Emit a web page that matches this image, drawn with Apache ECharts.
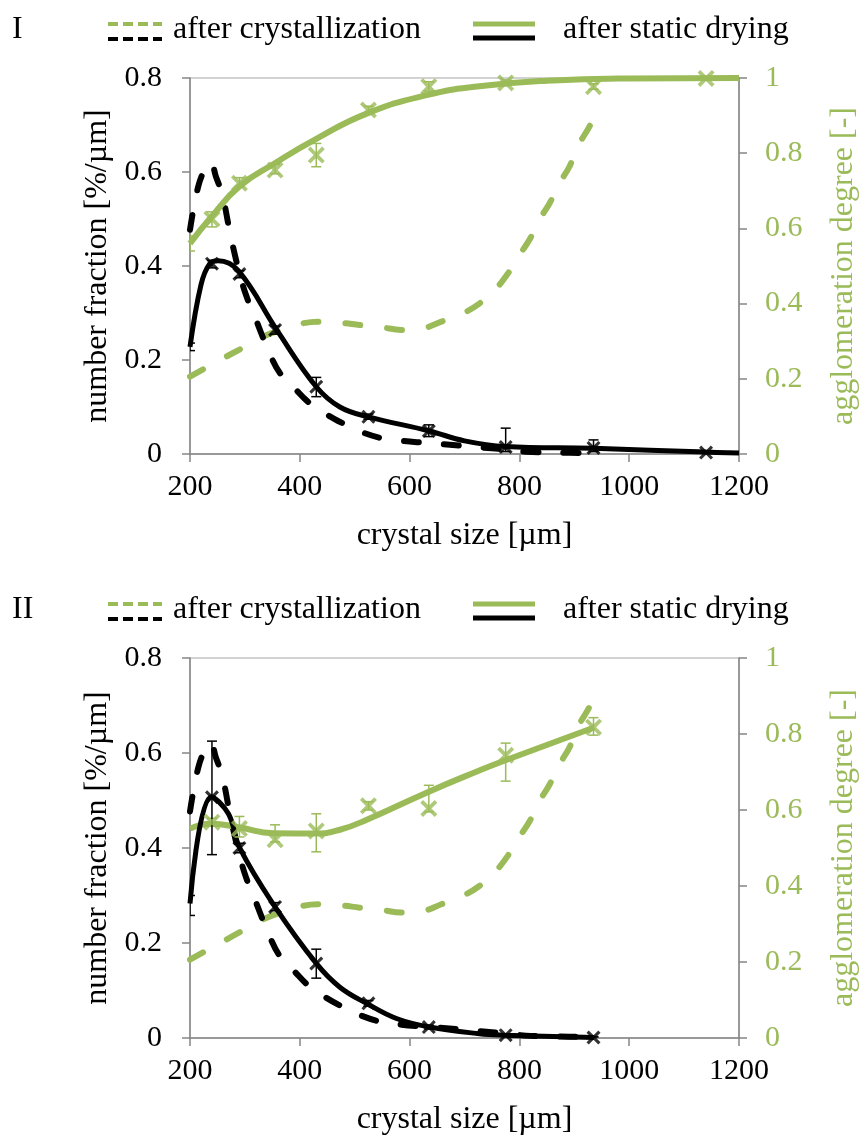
<!DOCTYPE html>
<html><head><meta charset="utf-8">
<script src="https://cdn.jsdelivr.net/npm/echarts@6/dist/echarts.min.js"></script>
<style>html,body{margin:0;padding:0;background:#fff}#c{width:860px;height:1135px}</style>
</head><body><div id="c"></div>
<script>
// ---------- DATA ----------
// measured sizes (µm)
const sizesI = [200, 240, 290, 355, 430, 525, 635, 775, 935, 1140];
const sizesII = [200, 240, 290, 355, 430, 525, 635, 775, 935];

// Panel I measured points (after static drying)
const blackMarkI = [0.228, 0.405, 0.383, 0.264, 0.143, 0.079, 0.049, 0.015, 0.013, 0.003];
const blackLowI  = [0.220, 0.396, 0.375, 0.255, 0.122, 0.074, 0.037, 0.005, 0.005, 0.001];
const blackHighI = [0.236, 0.412, 0.390, 0.272, 0.163, 0.085, 0.062, 0.055, 0.030, 0.005];
const greenMarkI = [0.560, 0.625, 0.720, 0.755, 0.795, 0.915, 0.977, 0.987, 0.977, 0.999];
const greenLowI  = [0.540, 0.604, 0.710, 0.745, 0.764, 0.905, 0.965, 0.980, 0.970, 0.995];
const greenHighI = [0.580, 0.644, 0.735, 0.770, 0.826, 0.925, 0.990, 0.995, 0.985, 1.000];

// Panel II measured points
const blackMarkII = [0.283, 0.507, 0.400, 0.276, 0.157, 0.073, 0.023, 0.006, 0.001];
const blackLowII  = [0.258, 0.386, 0.390, 0.268, 0.126, 0.067, 0.019, 0.004, 0.000];
const blackHighII = [0.300, 0.625, 0.410, 0.285, 0.187, 0.079, 0.027, 0.008, 0.003];
const greenMarkII = [null, 0.568, 0.551, 0.522, 0.545, 0.611, 0.604, 0.744, 0.818];
const greenLowII  = [null, 0.558, 0.529, 0.516, 0.490, 0.600, 0.595, 0.676, 0.797];
const greenHighII = [null, 0.578, 0.583, 0.561, 0.590, 0.622, 0.665, 0.776, 0.843];

// Fitted curves [size, value]
const blackFitI = [[200,0.228],[220,0.36],[236,0.405],[251,0.411],[288,0.39],[358,0.264],[430,0.143],[473,0.10],[525,0.079],[636,0.049],[700,0.028],[775,0.016],[935,0.012],[1140,0.004],[1200,0.002]];
const greenFitI = [[200,0.56],[239,0.631],[291,0.713],[353,0.772],[430,0.838],[523,0.906],[633,0.955],[727,0.978],[850,0.993],[1000,0.999],[1200,1.0]];
const blackFitII = [[200,0.283],[239,0.508],[270,0.472],[291,0.399],[355,0.276],[430,0.157],[473,0.107],[523,0.072],[576,0.041],[636,0.023],[727,0.009],[771,0.006],[936,0.001]];
const greenFitII = [[200,0.551],[239,0.564],[290,0.554],[353,0.539],[430,0.538],[473,0.548],[523,0.575],[633,0.647],[727,0.704],[771,0.729],[936,0.817]];

// after crystallization (same in both panels)
const blackDashed = [[200,0.477],[215,0.569],[229,0.61],[238,0.62],[247,0.591],[259,0.551],[274,0.464],[290,0.385],[303,0.335],[318,0.292],[345,0.214],[364,0.172],[388,0.143],[415,0.111],[445,0.087],[479,0.065],[512,0.047],[551,0.033],[585,0.028],[627,0.024],[661,0.021],[720,0.015],[780,0.009],[812,0.005],[870,0.003],[935,0.002]];
const greenDashed = [[200,0.206],[261,0.255],[294,0.281],[327,0.308],[364,0.33],[400,0.346],[433,0.352],[476,0.349],[509,0.343],[549,0.337],[585,0.33],[624,0.334],[658,0.352],[697,0.374],[727,0.40],[755,0.436],[779,0.48],[800,0.529],[818,0.569],[836,0.622],[855,0.667],[873,0.72],[891,0.764],[906,0.817],[924,0.862],[935,0.89]];

const panelLabels = ['I', 'II'];
const legendTexts = ['after crystallization', 'after static drying'];
const xName = 'crystal size [µm]';
const yLeftName = 'number fraction [%/µm]';
const yRightName = 'agglomeration degree [-]';

// ---------- STYLE ----------
const FONT = '"Liberation Serif","Times New Roman",serif';
const GREEN = '#9BBB59';
const AXIS = '#868686';
const XSYM = 'path://M0,2.2L2.2,0L7,4.8L11.8,0L14,2.2L9.2,7L14,11.8L11.8,14L7,9.2L2.2,14L0,11.8L4.8,7Z';
const grids = [{left:190, top:78, width:549, height:376}, {left:190, top:658, width:549, height:380}];

const fmt = v => String(Math.round(v*10)/10);
const fmtX = v => String(Math.round(v));

const xAxes = [], yAxes = [], series = [];
function pairs(xs, ys) { return xs.map((x,i)=>[x, ys[i]]).filter(p=>p[1]!=null && p[0]>200); }
function errs(xs, lo, hi) { return xs.map((x,i)=>[x, lo[i], hi[i]]).filter(p=>p[1]!=null); }

function errSeries(data, xi, yi, color) {
  return {
    type:'custom', xAxisIndex:xi, yAxisIndex:yi, clip:true, z:4,
    data, encode:{x:0, y:[1,2]},
    renderItem:(params, api) => {
      const x = api.value(0);
      const a = api.coord([x, api.value(1)]), b = api.coord([x, api.value(2)]);
      const w = 5, st = {stroke:color, lineWidth:1.5};
      return {type:'group', children:[
        {type:'line', shape:{x1:a[0],y1:a[1],x2:b[0],y2:b[1]}, style:st},
        {type:'line', shape:{x1:a[0]-w,y1:a[1],x2:a[0]+w,y2:a[1]}, style:st},
        {type:'line', shape:{x1:b[0]-w,y1:b[1],x2:b[0]+w,y2:b[1]}, style:st}
      ]};
    }
  };
}

const panels = [
  {sizes:sizesI, bm:blackMarkI, bl:blackLowI, bh:blackHighI, gm:greenMarkI, gl:greenLowI, gh:greenHighI, bf:blackFitI, gf:greenFitI},
  {sizes:sizesII, bm:blackMarkII, bl:blackLowII, bh:blackHighII, gm:greenMarkII, gl:greenLowII, gh:greenHighII, bf:blackFitII, gf:greenFitII}
];

panels.forEach((p, i) => {
  xAxes.push({
    gridIndex:i, type:'value', min:200, max:1200, interval:200,
    name:xName, nameLocation:'middle', nameGap:66,
    nameTextStyle:{fontFamily:FONT, fontSize:32, color:'#000'},
    axisLine:{show:true, lineStyle:{color:AXIS, width:1.5}},
    axisTick:{show:true, length:8, lineStyle:{color:AXIS, width:1.5}},
    axisLabel:{fontFamily:FONT, fontSize:30, color:'#000', margin:18, formatter:fmtX},
    splitLine:{show:false}
  });
  yAxes.push({
    gridIndex:i, type:'value', position:'left', min:0, max:0.8, interval:0.2,
    name:yLeftName, nameLocation:'middle', nameGap:73,
    nameTextStyle:{fontFamily:FONT, fontSize:32, color:'#000'},
    axisLine:{show:true, lineStyle:{color:AXIS, width:1.5}},
    axisTick:{show:true, length:8, lineStyle:{color:AXIS, width:1.5}},
    axisLabel:{fontFamily:FONT, fontSize:30, color:'#000', margin:28, formatter:fmt},
    splitLine:{show:false}
  });
  yAxes.push({
    gridIndex:i, type:'value', position:'right', min:0, max:1, interval:0.2,
    name:yRightName, nameLocation:'middle', nameGap:89,
    nameTextStyle:{fontFamily:FONT, fontSize:32, color:GREEN},
    axisLine:{show:true, lineStyle:{color:AXIS, width:1.5}},
    axisTick:{show:true, length:8, lineStyle:{color:AXIS, width:1.5}},
    axisLabel:{fontFamily:FONT, fontSize:30, color:GREEN, margin:26, formatter:fmt},
    splitLine:{show:false}
  });
  const yl = 2*i, yr = 2*i+1;
  series.push({type:'line', xAxisIndex:i, yAxisIndex:yr, data:greenDashed, smooth:0.4, showSymbol:false, z:2,
    lineStyle:{color:GREEN, width:6, type:[15,27], cap:'round'}});
  series.push({type:'line', xAxisIndex:i, yAxisIndex:yl, data:blackDashed, smooth:0.4, showSymbol:false, z:2,
    lineStyle:{color:'#000', width:6, type:[15,25], cap:'round'}});
  series.push({type:'line', xAxisIndex:i, yAxisIndex:yr, data:p.gf, smooth:0.5, showSymbol:false, z:3,
    lineStyle:{color:GREEN, width:6}});
  series.push({type:'line', xAxisIndex:i, yAxisIndex:yl, data:p.bf, smooth:0.4, showSymbol:false, z:3,
    lineStyle:{color:'#000', width:5}});
  series.push(errSeries(errs(p.sizes, p.gl, p.gh), i, yr, GREEN));
  series.push(errSeries(errs(p.sizes, p.bl, p.bh), i, yl, '#000'));
  series.push({type:'scatter', xAxisIndex:i, yAxisIndex:yr, data:pairs(p.sizes, p.gm), symbol:XSYM, symbolSize:17, z:5,
    itemStyle:{color:GREEN}});
  series.push({type:'scatter', xAxisIndex:i, yAxisIndex:yl, data:pairs(p.sizes, p.bm), symbol:XSYM, symbolSize:14, z:6,
    itemStyle:{color:'#000'}});
});

// legend drawn as graphics (double-line keys)
const graphic = [];
[0, 580].forEach((off, i) => {
  const t = (txt, x, y, col) => ({type:'text', x, y, style:{text:txt, font:'32px ' + FONT, fill:col||'#000', verticalAlign:'middle', align:'left'}});
  graphic.push(t(panelLabels[i], 12, 30+off));
  graphic.push({type:'line', shape:{x1:108,y1:24+off,x2:162,y2:24+off}, style:{stroke:GREEN, lineWidth:4, lineDash:[10,5]}});
  graphic.push({type:'line', shape:{x1:108,y1:39+off,x2:162,y2:39+off}, style:{stroke:'#000', lineWidth:4, lineDash:[10,5]}});
  graphic.push(t(legendTexts[0], 173, 30+off));
  graphic.push({type:'line', shape:{x1:473,y1:24+off,x2:535,y2:24+off}, style:{stroke:GREEN, lineWidth:5}});
  graphic.push({type:'line', shape:{x1:473,y1:38+off,x2:535,y2:38+off}, style:{stroke:'#000', lineWidth:5}});
  graphic.push(t(legendTexts[1], 563, 30+off));
});

const chart = echarts.init(document.getElementById('c'));
chart.setOption({
  animation:false,
  backgroundColor:'#fff',
  grid: grids.map(g => Object.assign({show:true, borderColor:'#c4c4c4', borderWidth:1.5, backgroundColor:'transparent', outerBoundsMode:'none', containLabel:false}, g)),
  xAxis:xAxes, yAxis:yAxes, series, graphic
});
</script>
</body></html>
